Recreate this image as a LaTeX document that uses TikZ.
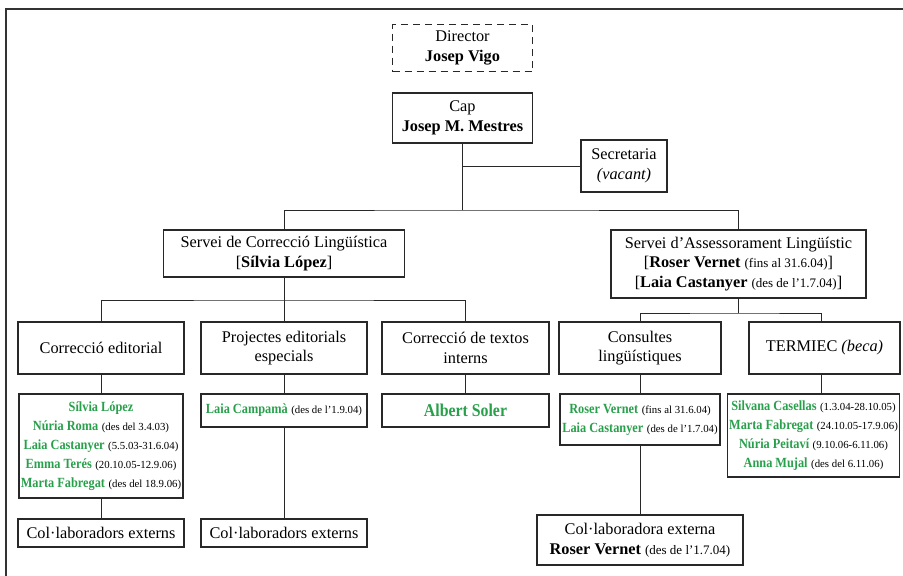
\documentclass[tikz,border=0pt]{standalone}
\usepackage{fontspec}
\setmainfont{Liberation Serif}
\newfontfamily\gnfont[FakeStretch=0.88]{Liberation Serif}
\definecolor{grn}{RGB}{40,160,75}
\definecolor{ln}{RGB}{40,40,40}
\newcommand{\gn}[1]{{\gnfont\color{grn}\bfseries #1}}
\newcommand{\dt}[1]{{\fontsize{10.8}{12}\selectfont #1}}
\newcommand{\dtb}[1]{{\fontsize{13}{14}\selectfont #1}}
\tikzset{
  box/.style={draw=ln, line width=1.1pt, inner sep=0pt, align=center,
    font=\fontsize{16.3}{19.5}\selectfont},
  staff/.style={box, font=\fontsize{14}{19}\selectfont},
  conn/.style={draw=ln, line width=1pt},
}
\begin{document}
\begin{tikzpicture}[x=1pt,y=-1pt]
\useasboundingbox (0,0) rectangle (903,576);
% frame
\draw[line width=1.6pt, black!80] (903,9) -- (6,9) -- (6,576);
% top
\node[box, dashed, dash pattern=on 7pt off 5pt, minimum width=140pt, minimum height=47pt] (dir) at (462.5,48) {Director\\\textbf{Josep Vigo}};
\node[box, minimum width=140pt, minimum height=50pt] (cap) at (462.5,118) {Cap\\\textbf{Josep M. Mestres}};
\node[box, minimum width=86pt, minimum height=52pt] (secr) at (624,166) {Secretaria\\\textit{(vacant)}};
% services
\node[box, minimum width=241pt, minimum height=47pt] (scl) at (284,253.5) {Servei de Correcció Lingüística\\{[}\textbf{Sílvia López}{]}};
\node[box, minimum width=255pt, minimum height=68pt] (sal) at (738.5,264) {Servei d’Assessorament Lingüístic\\{[}\textbf{Roser Vernet} \dtb{(fins al 31.6.04)}{]}\\{[}\textbf{Laia Castanyer} \dtb{(des de l’1.7.04)}{]}};
% units
\node[box, minimum width=166pt, minimum height=52pt] (ced) at (101,348) {Correcció editorial};
\node[box, minimum width=166pt, minimum height=52pt] (pee) at (284,348) {Projectes editorials\\especials};
\node[box, minimum width=167pt, minimum height=52pt] (cti) at (465.5,348) {Correcció de textos\\interns};
\node[box, minimum width=162pt, minimum height=52pt] (cl) at (640,348) {Consultes\\lingüístiques};
\node[box, minimum width=151pt, minimum height=52pt] (term) at (824.5,348) {TERMIEC \textit{(beca)}};
% staff
\node[staff, minimum width=164pt, minimum height=104pt] (cedst) at (101,446) {\gn{Sílvia López}\\\gn{Núria Roma} \dt{(des del 3.4.03)}\\\gn{Laia Castanyer} \dt{(5.5.03-31.6.04)}\\\gn{Emma Terés} \dt{(20.10.05-12.9.06)}\\\gn{Marta Fabregat} \dt{(des del 18.9.06)}};
\node[staff, minimum width=166pt, minimum height=33pt] (peest) at (284,410.5) {\gn{Laia Campamà} \dt{(des de l’1.9.04)}};
\node[staff, minimum width=167pt, minimum height=33pt] (ctist) at (465.5,410.5) {\fontsize{18}{19}\selectfont\gn{Albert Soler}};
\node[staff, minimum width=160pt, minimum height=51pt] (clst) at (640,419.5) {\gn{Roser Vernet} \dt{(fins al 31.6.04)}\\\gn{Laia Castanyer} \dt{(des de l’1.7.04)}};
\node[staff, minimum width=172pt, minimum height=83pt] (termst) at (813.5,435.5) {\gn{Silvana Casellas} \dt{(1.3.04-28.10.05)}\\\gn{Marta Fabregat} \dt{(24.10.05-17.9.06)}\\\gn{Núria Peitaví} \dt{(9.10.06-6.11.06)}\\\gn{Anna Mujal} \dt{(des del 6.11.06)}};
% external
\node[box, minimum width=166pt, minimum height=28pt] (cext1) at (101,533) {Col·laboradors externs};
\node[box, minimum width=166pt, minimum height=28pt] (cext2) at (284,533) {Col·laboradors externs};
\node[box, minimum width=206pt, minimum height=50pt] (cext3) at (640,540) {Col·laboradora externa\\\textbf{Roser Vernet} \dtb{(des de l’1.7.04)}};
% connectors
\coordinate (j1) at (462.5,210);
\coordinate (j2) at (284,300);
\coordinate (j3) at (738.5,313);
\draw[conn] (cap.south) -- (j1);
\draw[conn] (cap.south |- secr.west) -- (secr.west);
\draw[conn] (scl.north) |- (j1) -| (sal.north);
\draw[conn] (scl.south) -- (pee.north);
\draw[conn] (ced.north) |- (j2) -| (cti.north);
\draw[conn] (sal.south) -- (j3);
\draw[conn] (cl.north) |- (j3) -| ([xshift=-3pt]term.north);
\draw[conn] (ced.south) -- (cedst.north);
\draw[conn] (cedst.south) -- (cext1.north);
\draw[conn] (pee.south) -- (peest.north);
\draw[conn] (peest.south) -- (cext2.north);
\draw[conn] (cti.south) -- (ctist.north);
\draw[conn] (cl.south) -- (clst.north);
\draw[conn] (clst.south) -- (cext3.north);
\draw[conn] ([xshift=-3pt]term.south) -- ([xshift=-3pt]term.south |- termst.north);
\end{tikzpicture}
\end{document}
